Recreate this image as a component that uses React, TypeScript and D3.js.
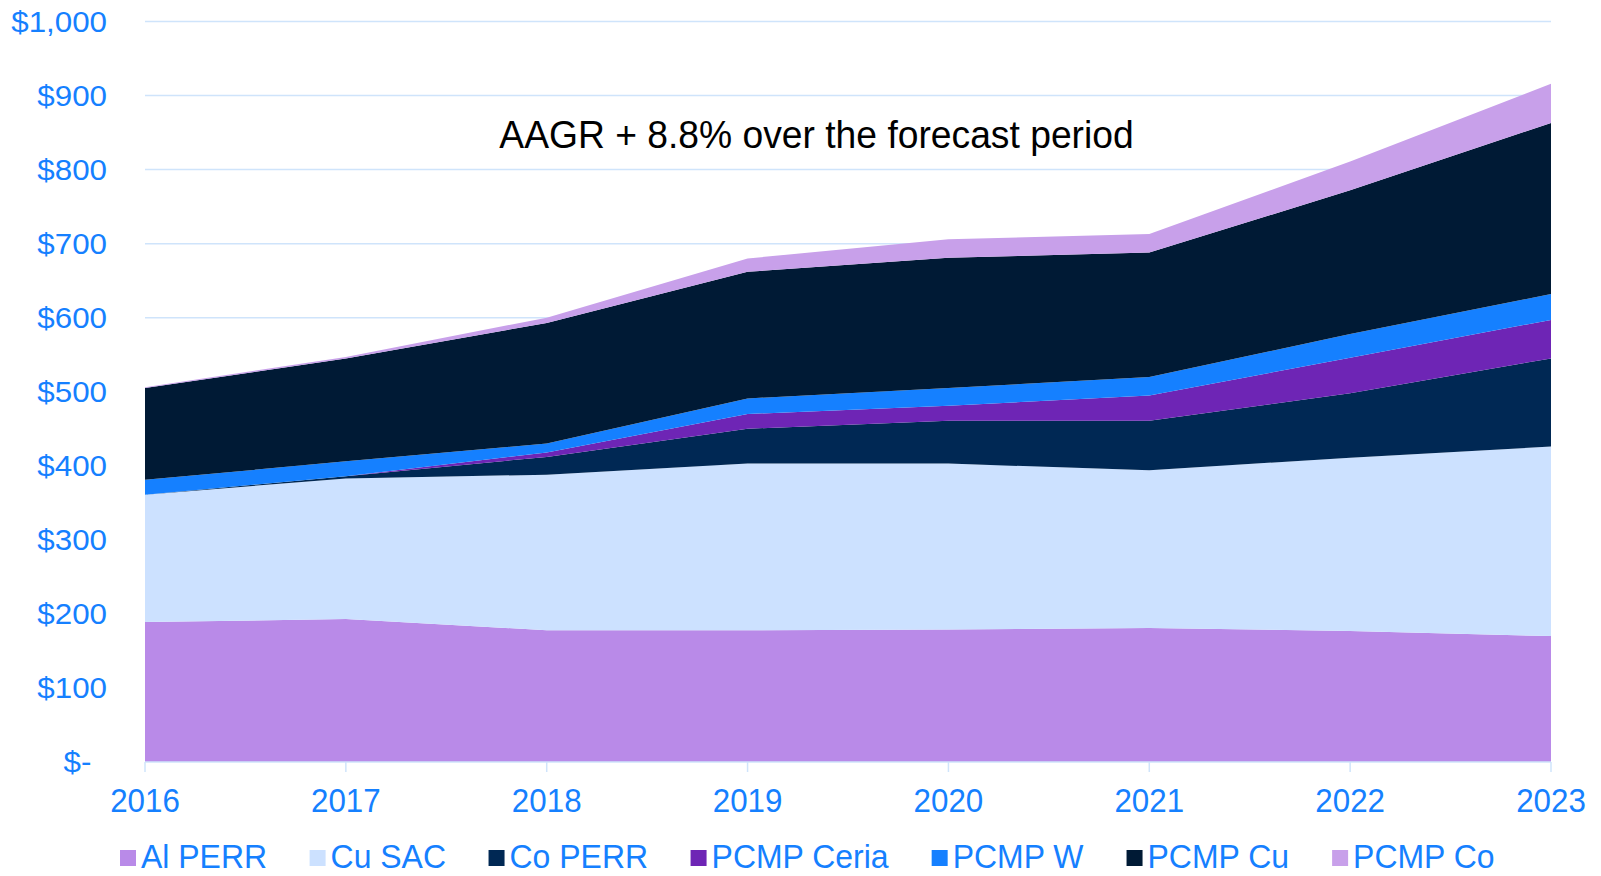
import React from "react";
import { scaleLinear, stack, area, curveLinear } from "d3";

const years = ["2016", "2017", "2018", "2019", "2020", "2021", "2022", "2023"];
const seriesNames = ["Al PERR", "Cu SAC", "Co PERR", "PCMP Ceria", "PCMP W", "PCMP Cu", "PCMP Co"];
const alPerr = [189, 193, 178, 178, 179, 181, 177, 170];
const cuSac = [172, 190, 210, 225, 224, 213, 234, 256];
const coPerr = [0, 3, 24, 47, 58, 67, 87, 119];
const pcmpCeria = [0, 0, 6, 20, 20, 34, 48, 52];
const pcmpW = [20, 20, 12, 21, 24, 25, 32, 35];
const pcmpCu = [124, 139, 163, 171, 176, 168, 194, 231];
const pcmpCo = [1, 2, 7, 18, 25, 25, 39, 53];
const yTicks = [0, 100, 200, 300, 400, 500, 600, 700, 800, 900, 1000];
const colors = ["#b98ae8", "#cce1ff", "#002854", "#6e25b5", "#1580ff", "#001a35", "#c8a0ea"];
const annotation = "AAGR + 8.8% over the forecast period";

const W = 1601;
const H = 876;
const left = 145;
const right = 1551;
const top = 21.5;
const bottom = 762;
const blue = "#1580ff";
const gridColor = "#cfe4fb";
const font = "'Liberation Sans', Arial, sans-serif";

// accounting style: zero shows as "$-" with trailing space
const fmt = (v: number) => (v === 0 ? "$-\u2002" : "$" + v.toLocaleString("en-US"));

const App = () => {
  const values = [alPerr, cuSac, coPerr, pcmpCeria, pcmpW, pcmpCu, pcmpCo];
  const rows = years.map((y, i) => {
    const r: Record<string, number> = {};
    seriesNames.forEach((n, k) => (r[n] = values[k][i]));
    return r;
  });
  const layers = stack<Record<string, number>>().keys(seriesNames)(rows);

  const x = scaleLinear().domain([0, years.length - 1]).range([left, right]);
  const y = scaleLinear().domain([0, 1000]).range([bottom, top]);

  const shape = area<[number, number]>()
    .x((_, i) => x(i))
    .y0((d) => y(d[0]))
    .y1((d) => y(d[1]))
    .curve(curveLinear);

  // legend layout from text widths
  const legendFont = 34;
  const legendScale = 0.94;
  const ctx = document.createElement("canvas").getContext("2d");
  let lx = 120;
  const legend = seriesNames.map((n, k) => {
    let tw = n.length * 17;
    if (ctx) {
      ctx.font = `${legendFont}px 'Liberation Sans'`;
      tw = ctx.measureText(n).width * legendScale;
    }
    const item = { name: n, color: colors[k], x: lx };
    lx += 16 + 5 + tw + 42.5;
    return item;
  });

  return (
    <svg width={W} height={H} style={{ position: "absolute", left: 0, top: 0, background: "#fff" }}>
      {yTicks.slice(1).map((t) => (
        <line key={t} x1={left} x2={right} y1={y(t)} y2={y(t)} stroke={gridColor} strokeWidth={1.5} />
      ))}
      {layers.map((layer, k) => (
        <path key={layer.key} d={shape(layer as any) || ""} fill={colors[k]} />
      ))}
      <line x1={left} x2={right} y1={bottom} y2={bottom} stroke={gridColor} strokeWidth={1.5} />
      {years.map((yr, i) => (
        <line key={yr} x1={x(i)} x2={x(i)} y1={bottom} y2={bottom + 10} stroke={gridColor} strokeWidth={1.5} />
      ))}
      {yTicks.map((t) => (
        <text
          key={t}
          transform={`translate(107,${y(t)}) scale(1.08,1)`}
          textAnchor="end"
          dominantBaseline="central"
          fontFamily={font}
          fontSize={29}
          fill={blue}
          style={{ whiteSpace: "pre" }}
        >
          {fmt(t)}
        </text>
      ))}
      {years.map((yr, i) => (
        <text
          key={yr}
          transform={`translate(${x(i)},812) scale(0.95,1)`}
          textAnchor="middle"
          fontFamily={font}
          fontSize={33}
          fill={blue}
        >
          {yr}
        </text>
      ))}
      <text
        transform={`translate(${(500 + 1133) / 2},148) scale(0.955,1)`}
        textAnchor="middle"
        fontFamily={font}
        fontSize={39}
        fill="#000"
      >
        {annotation}
      </text>
      {legend.map((it) => (
        <g key={it.name}>
          <rect x={it.x} y={850} width={16} height={16} fill={it.color} />
          <text
            transform={`translate(${it.x + 21},868) scale(${legendScale},1)`}
            fontFamily={font}
            fontSize={legendFont}
            fill={blue}
          >
            {it.name}
          </text>
        </g>
      ))}
    </svg>
  );
};

export default App;
